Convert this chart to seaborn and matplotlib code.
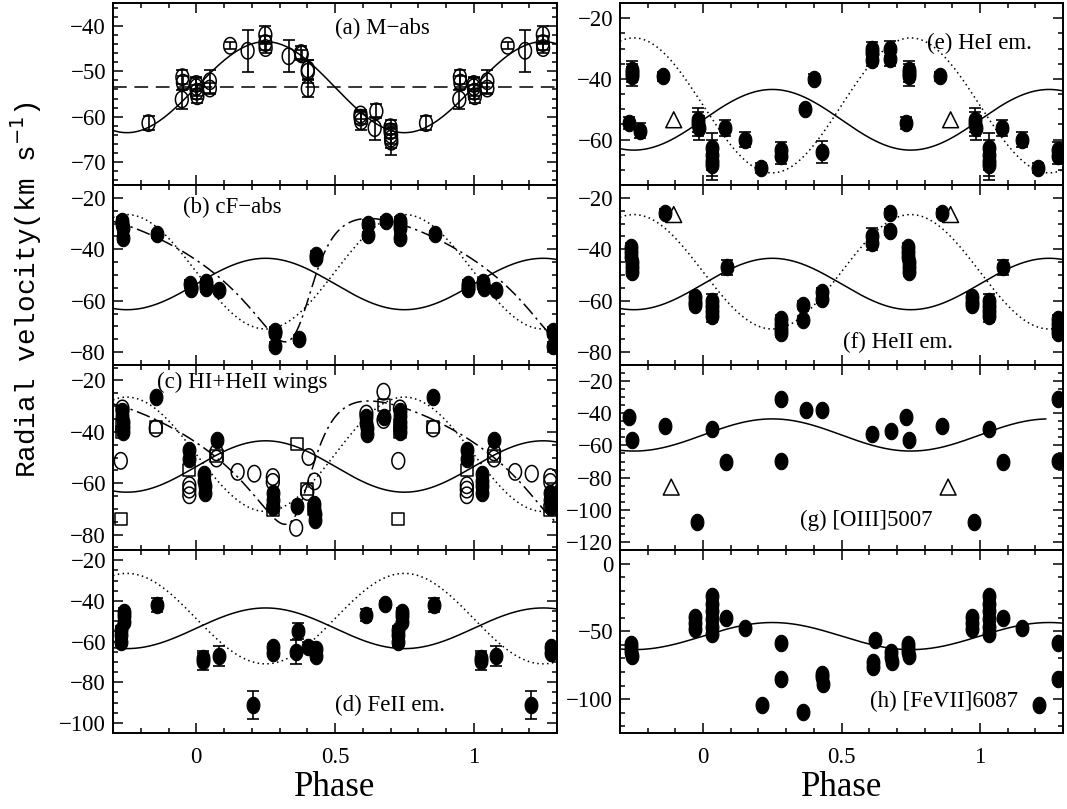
import numpy as np
import pandas as pd
import matplotlib
matplotlib.use("Agg")
import matplotlib.pyplot as plt
from matplotlib.path import Path
from matplotlib.ticker import MultipleLocator, FuncFormatter
import seaborn as sns

# ==========================================
# orbit solutions (curves)
# ==========================================
M_GAMMA, M_K = -53.5, 10.0            # M giant, solid sine
CF_GAMMA, CF_K = -48.75, 22.25        # cF star, dotted sine (anti-phase)
ECC_K, ECC_E, ECC_OMEGA = 24.0, 0.4, 230.0   # eccentric solution, dash-dot
ECC_MID = -52.0                       # mid velocity of the dash-dot curve
ECC_MIN_PHASE = 0.32
G_CURVE_END = 1.24

# ==========================================
# data (phase, velocity, error) per panel
# ==========================================
# (a) M-abs, open circles
a_phase = [0.828, 0.948, 0.950, 0.952, 0.000, 0.000, 0.002, 0.004, 0.049, 0.049, 0.122,
           0.185, 0.249, 0.249, 0.250, 0.333, 0.378, 0.380, 0.402, 0.402, 0.402, 0.592,
           0.592, 0.594, 0.649, 0.643, 0.700, 0.700, 0.702, 0.702, 0.703]
a_vel = [-61.4, -56.2, -51.3, -52.5, -52.8, -53.5, -54.5, -55.5, -52.2, -53.8, -44.4,
         -45.5, -42.0, -43.8, -44.9, -46.7, -46.0, -46.3, -49.6, -50.1, -53.8, -59.5,
         -60.2, -61.0, -58.8, -62.5, -62.3, -63.2, -64.0, -64.8, -65.5]
a_err = [1.5, 2.0, 1.5, 1.5, 1.5, 2.0, 1.5, 1.5, 2.5, 1.2, 0.8,
         4.6, 2.0, 1.5, 1.0, 3.5, 1.5, 1.0, 2.0, 2.5, 1.8, 1.0,
         1.5, 2.0, 1.5, 2.5, 1.5, 1.5, 2.0, 2.0, 3.0]

# (b) cF-abs
b_phase = [0.734, 0.734, 0.736, 0.736, 0.860, 0.978, 0.980, 0.980, 0.035, 0.035, 0.036,
           0.081, 0.285, 0.285, 0.285, 0.369, 0.432, 0.432, 0.619, 0.619, 0.682]
b_vel = [-29.0, -30.3, -31.6, -35.5, -34.2, -53.6, -54.5, -55.5, -52.9, -54.0, -55.0,
         -55.9, -71.7, -72.7, -77.5, -74.9, -42.3, -43.2, -30.3, -34.6, -29.0]
b_err = [1.5, 1.5, 1.5, 1.5, 1.5, 1.5, 1.5, 1.5, 1.5, 1.5, 1.5,
         1.5, 1.5, 1.5, 1.5, 1.5, 1.5, 1.5, 1.5, 1.5, 1.5]

# (c) HI+HeII wings: filled, open circles, open squares
c_fill_phase = [0.854, 0.734, 0.734, 0.735, 0.736, 0.736, 0.975, 0.975, 0.029, 0.029, 0.030,
                0.030, 0.073, 0.276, 0.276, 0.277, 0.362, 0.426, 0.426, 0.427, 0.427, 0.613,
                0.613, 0.614, 0.614, 0.675]
c_fill_vel = [-26.6, -32.0, -34.0, -36.0, -38.0, -40.0, -47.2, -50.4, -56.3, -59.0, -61.0,
              -64.0, -43.3, -64.0, -66.5, -69.3, -69.0, -68.0, -70.0, -72.0, -74.5, -34.1,
              -36.5, -38.5, -40.7, -34.1]
c_open_phase = [0.734, 0.728, 0.854, 0.975, 0.975, 0.975, 0.073, 0.073, 0.149, 0.209,
                0.276, 0.276, 0.360, 0.405, 0.426, 0.400, 0.675, 0.675, 0.613]
c_open_vel = [-30.9, -51.3, -38.7, -60.8, -62.5, -64.7, -50.4, -48.0, -55.6, -56.3,
              -57.6, -59.5, -77.4, -49.8, -59.3, -63.4, -24.4, -35.4, -32.9]
c_sq_phase = [0.728, 0.734, 0.734, 0.854, 0.975, 0.073, 0.276, 0.362, 0.400, 0.426, 0.675]
c_sq_vel = [-73.9, -37.4, -40.0, -38.0, -55.0, -49.5, -70.6, -44.6, -62.1, -70.0, -29.6]

# (d) FeII em.
d_phase = [0.728, 0.728, 0.728, 0.740, 0.740, 0.740, 0.857, 0.025, 0.025, 0.081, 0.206,
           0.278, 0.278, 0.360, 0.368, 0.402, 0.432, 0.432, 0.613, 0.679]
d_vel = [-54.3, -57.0, -60.0, -45.3, -47.5, -50.2, -42.0, -67.9, -69.8, -67.0, -91.1,
         -62.5, -65.6, -65.3, -54.8, -62.5, -63.8, -67.0, -47.1, -41.7]
d_err = [2.0, 2.0, 2.0, 2.0, 2.0, 2.0, 3.5, 3.0, 4.0, 5.0, 7.0,
         1.5, 1.5, 6.0, 4.0, 2.5, 2.0, 2.0, 3.0, 1.5]

# (e) HeI em.
e_phase = [0.732, 0.744, 0.744, 0.745, -0.226, 0.855, 0.983, 0.983, 0.984, 0.031, 0.031,
           0.032, 0.032, 0.081, 0.153, 0.210, 0.282, 0.282, 0.369, 0.401, 0.431, 0.610,
           0.610, 0.611, 0.676, 0.676]
e_vel = [-54.6, -37.0, -38.0, -39.2, -57.1, -39.2, -53.5, -55.0, -56.2, -62.8, -65.0,
         -67.0, -68.3, -56.2, -60.0, -69.4, -63.4, -65.6, -49.9, -40.0, -64.1, -30.0,
         -31.5, -33.7, -30.0, -33.4]
e_err = [2.0, 3.0, 3.0, 3.0, 2.5, 1.5, 4.0, 4.0, 4.0, 5.0, 5.0,
         5.0, 5.0, 2.5, 2.5, 1.5, 2.5, 2.5, 1.0, 1.5, 3.5, 2.0,
         2.0, 2.0, 2.5, 2.5]
e_tri_phase = [0.894]
e_tri_vel = [-53.5]

# (f) HeII em.
f_phase = [0.740, 0.740, 0.741, 0.742, 0.742, 0.743, 0.864, 0.971, 0.971, 0.972, 0.031,
           0.031, 0.032, 0.032, 0.085, 0.282, 0.282, 0.283, 0.283, 0.360, 0.360, 0.431,
           0.431, 0.610, 0.610, 0.676, 0.676]
f_vel = [-39.0, -41.0, -43.0, -45.0, -47.0, -49.0, -25.9, -58.6, -60.5, -61.8, -60.0,
         -62.0, -64.0, -65.8, -47.0, -67.0, -69.0, -71.0, -72.7, -61.8, -67.6, -56.5,
         -59.2, -34.9, -37.4, -25.9, -33.0]
f_err = [1.5, 1.5, 1.5, 1.5, 1.5, 1.5, 1.5, 1.5, 1.5, 1.5, 2.5,
         2.5, 2.5, 2.5, 3.0, 1.5, 1.5, 1.5, 1.5, 1.5, 1.5, 1.5,
         1.5, 3.0, 3.0, 1.5, 1.5]
f_tri_phase = [0.894]
f_tri_vel = [-26.5]

# (g) [OIII]5007
g_phase = [0.732, 0.744, 0.864, 0.977, 0.031, 0.082, 0.282, 0.282, 0.372, 0.431, 0.610, 0.679]
g_vel = [-42.1, -56.4, -47.8, -107.8, -49.5, -70.5, -31.0, -69.5, -37.9, -37.9, -52.6, -51.2]
g_tri_phase = [0.885]
g_tri_vel = [-85.9]

# (h) [FeVII]6087
h_phase = [0.740, 0.740, 0.741, 0.742, 0.971, 0.971, 0.972, 0.031, 0.031, 0.031, 0.032,
           0.032, 0.032, 0.082, 0.151, 0.213, 0.282, 0.282, 0.360, 0.431, 0.431, 0.432,
           0.620, 0.615, 0.615, 0.680, 0.680, 0.681]
h_vel = [-59.0, -62.0, -65.0, -68.0, -39.7, -44.0, -48.3, -23.8, -29.9, -34.8, -41.0,
         -47.0, -52.0, -40.2, -47.6, -104.1, -58.9, -85.2, -109.7, -81.5, -84.0, -88.8,
         -56.4, -72.8, -76.5, -65.5, -69.0, -72.8]

# ==========================================
# helpers
# ==========================================
def unfold(phase, vel, err=None):
    # repeat points folded in [0,1) over the plotted phase range
    if err is None:
        err = [0.0] * len(phase)
    rows = []
    for p, v, e in zip(phase, vel, err):
        shifts = [0, -1, 1] if 0 <= p < 1 else [0]
        for s in shifts:
            q = p + s
            if -0.295 <= q <= 1.295:
                rows.append((q, v, e))
    return pd.DataFrame(rows, columns=["phase", "vel", "err"])


def kepler_rv(phase, gamma, k, e, omega_deg, t_peri):
    M = 2 * np.pi * (phase - t_peri)
    E = M.copy()
    for _ in range(60):
        E = E - (E - e * np.sin(E) - M) / (1 - e * np.cos(E))
    nu = 2 * np.arctan2(np.sqrt(1 + e) * np.sin(E / 2), np.sqrt(1 - e) * np.cos(E / 2))
    w = np.radians(omega_deg)
    return gamma + k * (np.cos(nu + w) + e * np.cos(w))


# ellipse marker (taller than wide, like the original plot symbols)
t = np.linspace(0, 2 * np.pi, 41)
ELL = Path(np.column_stack([0.78 * np.cos(t), np.sin(t)]), closed=True)
S_ELL = 140

phase_grid = np.linspace(-0.3, 1.3, 600)
m_curve = M_GAMMA + M_K * np.sin(2 * np.pi * phase_grid)
cf_curve = CF_GAMMA - CF_K * np.sin(2 * np.pi * phase_grid)

# eccentric curve: periastron time so that the minimum sits at ECC_MIN_PHASE
w_rad = np.radians(ECC_OMEGA)
ecc_gamma = ECC_MID - ECC_K * ECC_E * np.cos(w_rad)
nu_min = np.pi - w_rad
E_min = 2 * np.arctan(np.sqrt((1 - ECC_E) / (1 + ECC_E)) * np.tan(nu_min / 2))
M_min = E_min - ECC_E * np.sin(E_min)
t_peri = ECC_MIN_PHASE - M_min / (2 * np.pi)
ecc_curve = kepler_rv(phase_grid, ecc_gamma, ECC_K, ECC_E, ECC_OMEGA, t_peri)


def draw_curve(ax, x, y, ls, lw=1.1):
    sns.lineplot(x=x, y=y, ax=ax, color="black", linestyle=ls, linewidth=lw,
                 errorbar=None, sort=False, zorder=2)


def draw_points(ax, df, marker=ELL, s=S_ELL, filled=True):
    eb = df[df["err"] > 0]
    if len(eb):
        ax.errorbar(eb["phase"], eb["vel"], yerr=eb["err"], fmt="none", ecolor="black",
                    elinewidth=1.2, capsize=4.5, capthick=1.2, zorder=3)
    if filled:
        sns.scatterplot(data=df, x="phase", y="vel", marker=marker, s=s, color="black",
                        edgecolor="black", linewidth=0.8, ax=ax, legend=False, zorder=4)
    else:
        sns.scatterplot(data=df, x="phase", y="vel", marker=marker, s=s, facecolor="none",
                        edgecolor="black", linewidth=1.1, ax=ax, legend=False, zorder=4)


def fmt_num(v, pos):
    return f"{v:g}".replace("-", "\u2212")


def style_axis(ax, ylim, ymaj, ymin, bottom):
    ax.set_xlim(-0.3, 1.3)
    ax.set_ylim(*ylim)
    ax.xaxis.set_major_locator(MultipleLocator(0.5))
    ax.xaxis.set_minor_locator(MultipleLocator(0.1))
    ax.yaxis.set_major_locator(MultipleLocator(ymaj))
    ax.yaxis.set_minor_locator(MultipleLocator(ymin))
    ax.xaxis.set_major_formatter(FuncFormatter(fmt_num))
    ax.yaxis.set_major_formatter(FuncFormatter(fmt_num))
    ax.tick_params(which="both", direction="in", top=True, right=True, color="black",
                   labelsize=16.5, labelcolor="black", width=1.1)
    ax.tick_params(which="major", length=7)
    ax.tick_params(which="minor", length=3.5)
    ax.tick_params(axis="x", labelbottom=bottom, pad=10)
    ax.tick_params(axis="y", pad=5)
    ax.set_xlabel("")
    ax.set_ylabel("")
    for sp in ax.spines.values():
        sp.set_color("black")
        sp.set_linewidth(1.4)


def label(ax, x, y, txt):
    ax.text(x, y, txt, transform=ax.transAxes, fontsize=16.5, color="black",
            ha="left", va="center")


# ==========================================
# figure
# ==========================================
sns.set_theme(style="ticks")
plt.rcParams["font.family"] = ["Liberation Serif", "DejaVu Serif"]
plt.rcParams["axes.unicode_minus"] = True

W, H = 1067, 809
fig = plt.figure(figsize=(W / 100, H / 100), dpi=100)
col_x = [(113, 444), (620, 443)]
row_y = [(3, 185), (185, 365), (365, 550), (550, 733)]
axes = {}
names = [["a", "b", "c", "d"], ["e", "f", "g", "h"]]
for ci, (x0, w) in enumerate(col_x):
    for ri, (ytop, ybot) in enumerate(row_y):
        axes[names[ci][ri]] = fig.add_axes([x0 / W, 1 - ybot / H, w / W, (ybot - ytop) / H])

dot_ls = (0, (1, 2.2))
dashdot_ls = (0, (9, 3, 1.5, 3))

# (a)
ax = axes["a"]
draw_curve(ax, phase_grid, m_curve, "-")
ax.axhline(M_GAMMA, color="black", linestyle=(0, (9, 5)), linewidth=1.1, zorder=2)
draw_points(ax, unfold(a_phase, a_vel, a_err), filled=False)
style_axis(ax, (-75, -35), 10, 2, False)
label(ax, 0.5, 0.86, "(a) M\u2212abs")

# (b)
ax = axes["b"]
draw_curve(ax, phase_grid, m_curve, "-")
draw_curve(ax, phase_grid, cf_curve, dot_ls)
draw_curve(ax, phase_grid, ecc_curve, dashdot_ls)
draw_points(ax, unfold(b_phase, b_vel, b_err))
style_axis(ax, (-85, -15), 20, 5, False)
label(ax, 0.158, 0.878, "(b) cF\u2212abs")

# (c)
ax = axes["c"]
draw_curve(ax, phase_grid, m_curve, "-")
draw_curve(ax, phase_grid, cf_curve, dot_ls)
draw_curve(ax, phase_grid, ecc_curve, dashdot_ls)
draw_points(ax, unfold(c_fill_phase, c_fill_vel))
draw_points(ax, unfold(c_open_phase, c_open_vel), filled=False)
draw_points(ax, unfold(c_sq_phase, c_sq_vel), marker="s", s=75, filled=False)
style_axis(ax, (-86, -14), 20, 5, False)
label(ax, 0.099, 0.908, "(c) HI+HeII wings")

# (d)
ax = axes["d"]
draw_curve(ax, phase_grid, m_curve, "-")
draw_curve(ax, phase_grid, cf_curve, dot_ls)
draw_points(ax, unfold(d_phase, d_vel, d_err))
style_axis(ax, (-105, -15), 20, 5, True)
label(ax, 0.5, 0.153, "(d) FeII em.")

# (e)
ax = axes["e"]
draw_curve(ax, phase_grid, m_curve, "-")
draw_curve(ax, phase_grid, cf_curve, dot_ls)
draw_points(ax, unfold(e_phase, e_vel, e_err))
draw_points(ax, unfold(e_tri_phase, e_tri_vel), marker="^", s=130, filled=False)
style_axis(ax, (-75, -15), 20, 5, False)
label(ax, 0.693, 0.776, "(e) HeI em.")

# (f)
ax = axes["f"]
draw_curve(ax, phase_grid, m_curve, "-")
draw_curve(ax, phase_grid, cf_curve, dot_ls)
draw_points(ax, unfold(f_phase, f_vel, f_err))
draw_points(ax, unfold(f_tri_phase, f_tri_vel), marker="^", s=130, filled=False)
style_axis(ax, (-85, -15), 20, 5, False)
label(ax, 0.503, 0.128, "(f) HeII em.")

# (g)
ax = axes["g"]
g_mask = phase_grid <= G_CURVE_END
draw_curve(ax, phase_grid[g_mask], m_curve[g_mask], "-")
draw_points(ax, unfold(g_phase, g_vel))
draw_points(ax, unfold(g_tri_phase, g_tri_vel), marker="^", s=130, filled=False)
style_axis(ax, (-125, -10), 20, 5, False)
label(ax, 0.406, 0.162, "(g) [OIII]5007")

# (h)
ax = axes["h"]
draw_curve(ax, phase_grid, m_curve, "-")
draw_points(ax, unfold(h_phase, h_vel))
style_axis(ax, (-125, 10), 50, 10, True)
label(ax, 0.564, 0.174, "(h) [FeVII]6087")

# shared labels
fig.text(335 / W, 1 - 788 / H, "Phase", fontsize=25, ha="center", va="center", color="black")
fig.text(842 / W, 1 - 788 / H, "Phase", fontsize=25, ha="center", va="center", color="black")
fig.text(26 / W, 1 - 290 / H, "Radial velocity(km s$^{-1}$)", rotation=90, fontsize=20,
         family=["Liberation Mono", "DejaVu Sans Mono"], ha="center", va="center", color="black")

fig.savefig("out.png", dpi=100, facecolor="white")
